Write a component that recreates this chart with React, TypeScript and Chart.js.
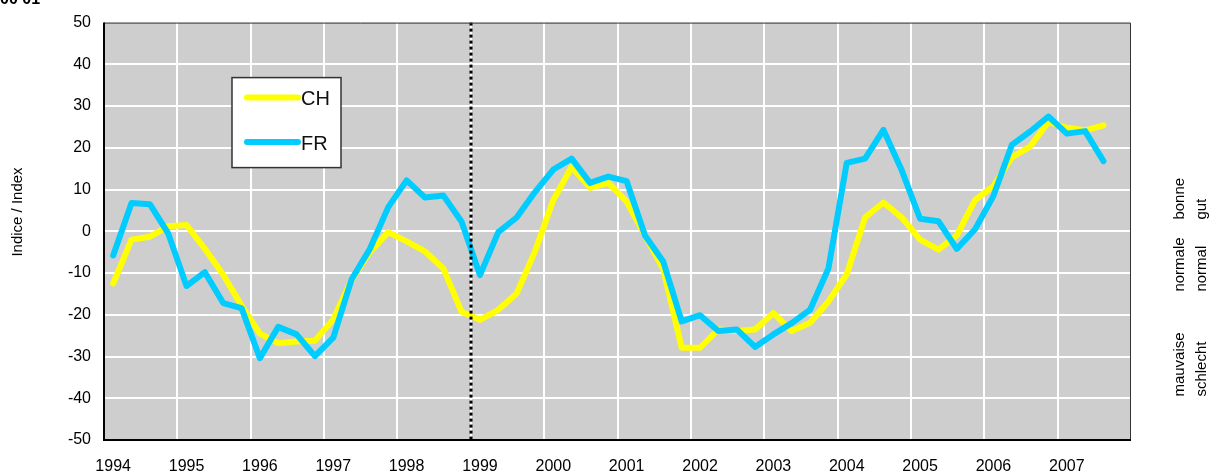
import { useEffect, useRef } from "react";
import { Chart, registerables } from "chart.js";

Chart.register(...registerables);

const years = ["1994", "1995", "1996", "1997", "1998", "1999", "2000", "2001", "2002", "2003", "2004", "2005", "2006", "2007"];
const quarterNames = ["Q1", "Q2", "Q3", "Q4"];
const categories = years.flatMap((y) => quarterNames.map((q) => `${y} ${q}`));

const chValues = [
  -12.5, -2.0, -1.3, 1.2, 1.5, -4.2, -10.4, -17.8, -24.5, -26.8, -26.4, -26.2, -21.1, -11.6,
  -5.0, -0.2, -2.4, -4.8, -8.9, -19.3, -21.2, -18.8, -14.9, -4.8, 7.5, 15.4, 10.4, 11.6,
  7.1, -1.0, -9.1, -27.9, -27.9, -23.5, -23.9, -23.5, -19.6, -23.9, -21.9, -16.8, -10.3, 3.3,
  6.9, 3.3, -2.0, -4.4, -1.0, 7.5, 10.8, 17.7, 20.3, 26.2, 24.8, 24.2, 25.4,
];
const frValues = [
  -5.8, 6.8, 6.5, -0.5, -13.1, -9.8, -17.2, -18.4, -30.4, -22.9, -24.7, -29.9, -25.5, -11.5,
  -4.2, 5.8, 12.2, 8.1, 8.6, 2.3, -10.5, -0.2, 3.3, 9.4, 14.8, 17.4, 11.6, 13.1,
  12.0, -1.0, -7.3, -21.6, -20.1, -23.9, -23.5, -27.7, -24.7, -22.0, -18.8, -8.9, 16.4, 17.4,
  24.3, 14.6, 3.0, 2.4, -4.2, 0.5, 8.5, 20.7, 23.9, 27.5, 23.4, 24.0, 16.8,
];

const seriesNames = ["CH", "FR"];
const seriesColors = ["#ffff00", "#00ccff"];
const yMin = -50;
const yMax = 50;
const yStep = 10;
const euroStart = "1999 Q1";
const axisTitle = "Indice / Index";
const ratingLabels = [
  ["bonne", "gut"],
  ["normale", "normal"],
  ["mauvaise", "schlecht"],
];
const cornerText = "00 01";

const FONT = "'Liberation Sans', Arial, sans-serif";
const TICK_FONT = "'Liberation Sans Narrow', 'Liberation Sans', Arial, sans-serif";

const decor = {
  id: "decor",
  beforeDraw(chart: any) {
    const { ctx, chartArea: a } = chart;
    ctx.save();
    ctx.fillStyle = "#ffffff";
    ctx.fillRect(0, 0, chart.width, chart.height);
    ctx.fillStyle = "#cecece";
    ctx.fillRect(a.left, a.top, a.right - a.left, a.bottom - a.top);
    ctx.restore();
  },
  afterDatasetsDraw(chart: any) {
    const { ctx, chartArea: a } = chart;
    const xs = chart.scales.x;
    const idx = categories.indexOf(euroStart);
    const xPix = (xs.getPixelForValue(idx - 1) + xs.getPixelForValue(idx)) / 2;
    ctx.save();
    // dotted euro line
    ctx.strokeStyle = "#000";
    ctx.lineWidth = 3;
    ctx.setLineDash([3, 3]);
    ctx.beginPath();
    ctx.moveTo(Math.round(xPix), a.top);
    ctx.lineTo(Math.round(xPix), a.bottom);
    ctx.stroke();
    ctx.setLineDash([]);

    // plot border
    ctx.strokeStyle = "#333";
    ctx.lineWidth = 1;
    ctx.beginPath();
    ctx.moveTo(a.left, a.top + 0.5);
    ctx.lineTo(a.right - 0.5, a.top + 0.5);
    ctx.lineTo(a.right - 0.5, a.bottom);
    ctx.stroke();
    ctx.strokeStyle = "#000";
    ctx.lineWidth = 2;
    ctx.beginPath();
    ctx.moveTo(a.left, a.top);
    ctx.lineTo(a.left, a.bottom);
    ctx.lineTo(a.right, a.bottom);
    ctx.stroke();

    // legend box
    const lx = a.left + 128;
    const ly = a.top + 55;
    ctx.fillStyle = "#fff";
    ctx.fillRect(lx, ly, 109, 90);
    ctx.strokeStyle = "#333";
    ctx.lineWidth = 1.5;
    ctx.strokeRect(lx, ly, 109, 90);
    ctx.lineCap = "round";
    ctx.font = `20px ${FONT}`;
    ctx.textBaseline = "middle";
    ctx.textAlign = "left";
    seriesNames.forEach((name, i) => {
      const y = ly + 20 + i * 44.5;
      ctx.strokeStyle = seriesColors[i];
      ctx.lineWidth = 6;
      ctx.beginPath();
      ctx.moveTo(lx + 15, y);
      ctx.lineTo(lx + 66, y);
      ctx.stroke();
      ctx.fillStyle = "#111";
      ctx.fillText(name, lx + 69, y + 2);
    });
    ctx.restore();
  },
  afterDraw(chart: any) {
    const { ctx, chartArea: a } = chart;
    ctx.save();
    ctx.fillStyle = "#000";
    // corner text (cut off at top)
    ctx.font = `bold 16px ${FONT}`;
    ctx.textAlign = "left";
    ctx.textBaseline = "alphabetic";
    ctx.fillText(cornerText, 0, 4);

    // y axis title
    ctx.font = `15px ${FONT}`;
    ctx.save();
    ctx.translate(18, 212);
    ctx.rotate(-Math.PI / 2);
    ctx.textAlign = "center";
    ctx.textBaseline = "middle";
    ctx.fillText(axisTitle, 0, 0);
    ctx.restore();

    // rating labels on the right
    const starts = [a.top + 197, a.top + 269, a.top + 374];
    ratingLabels.forEach((pair, g) => {
      pair.forEach((txt, k) => {
        ctx.save();
        ctx.translate(a.right + 49 + k * 22, starts[g]);
        ctx.rotate(-Math.PI / 2);
        ctx.textAlign = "left";
        ctx.textBaseline = "middle";
        ctx.fillText(txt, 0, 0);
        ctx.restore();
      });
    });
    ctx.restore();
  },
};

export default function App() {
  const ref = useRef<HTMLCanvasElement | null>(null);

  useEffect(() => {
    document.body.style.margin = "0";
    const canvas = ref.current;
    if (!canvas) return;
    const chart = new Chart(canvas, {
      type: "line",
      data: {
        labels: categories,
        datasets: [
          {
            label: seriesNames[0],
            data: chValues,
            borderColor: seriesColors[0],
            backgroundColor: seriesColors[0],
            borderWidth: 6,
            pointRadius: 0,
            tension: 0,
            borderCapStyle: "round",
            borderJoinStyle: "round",
            order: 2,
          },
          {
            label: seriesNames[1],
            data: frValues,
            borderColor: seriesColors[1],
            backgroundColor: seriesColors[1],
            borderWidth: 6,
            pointRadius: 0,
            tension: 0,
            borderCapStyle: "round",
            borderJoinStyle: "round",
            order: 1,
          },
        ],
      },
      options: {
        animation: false,
        responsive: false,
        maintainAspectRatio: false,
        devicePixelRatio: 1,
        layout: { padding: { top: 18, right: 80, bottom: 0, left: 0 } },
        plugins: {
          legend: { display: false },
          tooltip: { enabled: false },
          title: { display: false },
        },
        scales: {
          x: {
            type: "category",
            offset: true,
            afterFit: (s: any) => {
              s.height = 35;
            },
            grid: {
              offset: true,
              drawTicks: false,
              lineWidth: 2,
              color: (c: any) =>
                typeof c.index === "number" && c.index > 0 && c.index % 4 === 0 ? "#ffffff" : "rgba(0,0,0,0)",
            },
            border: { display: false },
            ticks: {
              autoSkip: false,
              maxRotation: 0,
              minRotation: 0,
              padding: 17,
              color: "#000",
              font: { family: TICK_FONT, size: 16 },
              callback: (_v: any, i: number) => (i % 4 === 0 ? years[i / 4] : ""),
            },
          },
          y: {
            min: yMin,
            max: yMax,
            afterFit: (s: any) => {
              s.width = 104;
            },
            grid: {
              drawTicks: false,
              lineWidth: 2,
              color: (c: any) =>
                c.tick && c.tick.value > yMin && c.tick.value < yMax ? "#ffffff" : "rgba(0,0,0,0)",
            },
            border: { display: false },
            ticks: {
              stepSize: yStep,
              padding: 13,
              color: "#000",
              font: { family: TICK_FONT, size: 16 },
            },
          },
        },
      },
      plugins: [decor],
    });
    return () => chart.destroy();
  }, []);

  return <canvas ref={ref} width={1211} height={475} style={{ display: "block", width: 1211, height: 475 }} />;
}
